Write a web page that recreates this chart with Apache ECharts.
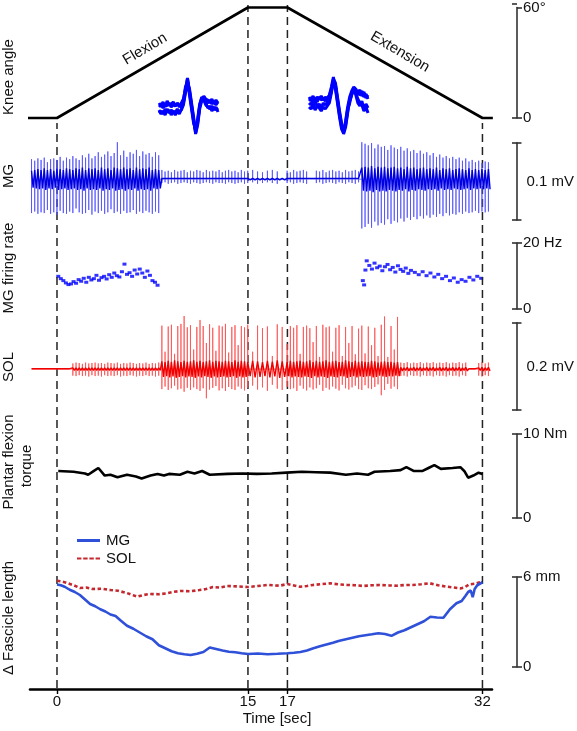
<!DOCTYPE html>
<html><head><meta charset="utf-8">
<script src="https://cdn.jsdelivr.net/npm/echarts@6/dist/echarts.min.js"></script>
<style>html,body{margin:0;padding:0;background:#fff}#c{width:577px;height:731px}</style>
</head><body><div id="c"></div>
<script>
// ---------------- DATA ----------------
// Time axis (seconds) : phase boundaries and tick labels
const TICK_TIMES = [0, 15, 17, 32];
const TICK_LABELS = ['0', '15', '17', '32'];
// the figure stretches the 15-17 s hold: display position of each boundary (in 0-15 s units)
const TIME_BREAKS = [0, 15, 17, 32];
const AXIS_BREAKS = [0, 15, 18.1, 33.42];

// Knee angle (deg)
const KNEE_T = [-2.28, 0, 15, 17, 32, 32.8];
const KNEE_DEG = [0, 0, 60, 60, 0, 0];

// EMG envelopes, one value per 0.25 s bin starting at -2.0 s (microvolts)
const EMG_T0 = -2.0, EMG_DT = 0.25;
const MG_UP = [
 26,24,27,25,28,22,26,27,25,29, 24,28,26,30,27,25,31,28,33,27,
 30,35,29,32,36,30,34,48,31,37, 29,35,33,38,30,36,32,34,29,35,
 31,12,10,11,9,12,10,11,12,9,   11,10,12,11,9,12,10,11,10,12,
 9,11,12,10,11,9,12,10,11,12,   10,9,11,12,10,2,11,9,12,10,
 11,12,10,2,1,11,10,12,9,11,    12,10,11,9,12,10,11,12,10,48,
 46,44,47,40,45,42,43,38,44,41, 39,42,37,40,36,38,34,37,33,35,
 31,34,29,32,28,30,27,29,26,28, 24,27,23,25,22,24,21,23,22];
const MG_DN = [
 44,42,45,43,44,40,45,43,46,41, 44,45,42,44,38,43,45,44,40,46,
 42,44,41,45,43,39,44,42,45,41, 44,43,40,45,42,44,41,43,45,42,
 44,5,4,6,5,4,6,5,4,5,          6,4,5,6,5,4,5,6,4,5,
 5,6,4,5,6,5,4,6,5,4,           6,5,4,5,6,1,5,4,6,5,
 4,5,6,1,1,5,4,6,5,4,           5,6,4,5,6,4,5,6,4,64,
 62,58,63,55,60,57,59,52,58,54, 56,51,55,50,53,49,52,48,51,47,
 50,46,49,45,48,44,47,45,46,43, 45,42,44,43,41,44,42,43,42];
const MG_CORE = [
 11,12,13,12,14,12,13,11,14,13, 12,14,13,12,14,13,15,12,14,13,
 14,12,15,13,14,12,15,14,13,15, 13,14,12,15,13,14,13,15,12,13,
 12,1,1,1,1,1,1,1,1,1,          1,1,1,1,1,1,1,1,1,1,
 1,1,1,1,1,1,1,1,1,1,           1,1,1,1,1,1,1,1,1,1,
 1,1,1,1,1,1,1,1,1,1,           1,1,1,1,1,1,1,1,1,15,
 16,15,17,14,16,15,16,14,15,16, 14,15,13,16,14,15,13,14,15,13,
 14,13,15,12,14,13,14,12,13,14, 13,12,14,12,13,12,13,12,13];
const SOL_UP = [
 0,0,0,0,0,0,0,0,3,0,           0,0,0,13,15,14,12,15,13,14,
 15,13,14,12,15,14,13,15,12,14, 13,15,14,12,14,13,15,12,14,13,
 15,100,40,98,102,35,99,104,122,96, 101,45,97,113,99,60,103,95,42,100,
 98,104,38,97,101,55,99,96,102,40, 100,94,98,30,103,97,58,99,95,101,
 35,97,100,94,62,99,28,102,96,98,  40,95,101,30,97,60,99,34,93,100,
 36,98,55,95,30,102,121,28,99,45,  120,15,14,16,13,15,14,16,13,15,
 14,16,13,15,14,16,13,15,14,16,    13,15,1,1,1,14,16,13,15];
const SOL_DN = [
 0,0,0,0,0,0,0,0,2,0,           0,0,0,15,16,14,16,15,17,14,
 16,15,17,14,16,15,16,14,17,15, 16,14,15,17,15,16,14,16,15,17,
 15,46,40,48,44,38,47,45,52,43, 48,42,46,50,44,67,47,43,39,49,
 44,50,41,46,48,40,45,49,43,38, 47,42,50,36,45,48,41,46,44,50,
 38,45,49,42,47,44,36,50,43,47, 40,45,49,36,44,47,42,38,46,48,
 37,44,46,41,35,60,48,34,45,40, 46,16,15,17,14,16,15,17,14,16,
 15,17,14,16,15,17,14,16,15,17, 14,16,1,1,1,15,17,14,16];
const SOL_CORE = [
 1,1,1,1,1,1,1,1,1,1,           1,1,1,3,3,3,3,3,3,3,
 3,3,3,3,3,3,3,3,3,3,           3,3,3,3,3,3,3,3,3,3,
 3,18,16,19,17,20,18,16,19,17,  18,20,17,19,16,18,20,17,19,18,
 17,19,18,16,20,17,19,18,16,19, 18,16,19,17,20,18,16,19,17,18,
 19,17,18,20,16,19,17,18,20,17, 18,19,16,17,20,18,16,19,17,18,
 17,16,19,18,15,17,18,16,17,15, 16,4,3,4,3,4,3,4,3,4,
 3,4,3,4,3,4,3,4,3,4,           3,4,1,1,1,3,4,3,4];

// MG firing rate (Hz)
const FR_L_T = [0.1,0.3,0.5,0.7,0.9,1.1,1.3,1.5,1.7,1.9,2.1,2.3,2.5,2.7,2.9,3.1,3.3,3.5,3.7,3.9,
 4.1,4.3,4.5,4.7,4.9,5.1,5.3,5.5,5.7,5.9,6.1,6.3,6.5,6.7,6.9,7.1,7.3,7.5,7.7,7.9];
const FR_L_HZ = [9.9,9.2,8.6,7.9,7.4,7.6,8.3,7.8,8.9,8.4,9.3,8.1,9.6,8.8,9.2,10.2,8.7,9.5,9.9,9.1,
 10.4,9.6,10.9,10.1,9.7,11.3,13.6,10.5,11.0,9.9,11.8,10.6,12.1,10.9,9.6,11.5,10.2,8.6,8.1,7.2];
const FR_R_T = [22.8,22.9,23.0,23.1,23.3,23.5,23.7,23.9,24.1,24.3,24.5,24.7,24.9,25.1,25.3,25.5,25.7,25.9,26.1,26.3,26.5,
 26.8,27.1,27.4,27.7,28.0,28.3,28.6,28.9,29.2,29.5,29.8,30.1,30.4,30.7,31.0,31.3,31.6,31.9];
const FR_R_HZ = [8.6,7.3,11.8,14.6,13.2,12.1,13.9,12.5,13.0,11.6,12.8,13.5,11.9,12.6,11.2,13.1,12.0,11.4,12.4,10.8,11.7,
 11.1,10.4,11.3,10.1,10.9,9.7,10.5,9.2,9.9,8.6,9.4,8.1,8.9,8.4,9.6,8.8,9.9,9.3];

// Plantar flexion torque (Nm)
const TORQUE_T = [0.1,1.3,2.2,2.45,2.9,3.25,3.75,4.2,4.75,5.5,6.2,6.65,7.35,7.9,8.4,8.8,9.65,10.25,10.8,11.4,
 12.0,13.4,14.6,15.45,16.2,16.95,18.1,19.2,20.3,21.5,22.35,23.2,23.7,24.9,25.7,26.15,26.7,27.4,27.85,28.3,
 28.8,29.7,30.3,30.6,30.9,31.3,31.7,32.0];
const TORQUE_NM = [5.6,5.5,5.3,5.15,5.6,5.95,5.05,5.15,4.85,5.15,4.95,4.7,5.05,5.25,5.05,5.25,5.15,5.5,5.3,5.6,
 5.15,5.25,5.3,5.25,5.3,5.4,5.5,5.45,5.4,5.15,5.3,5.15,5.5,5.6,5.7,6.05,5.6,5.6,5.95,6.3,
 5.85,5.95,6.05,5.6,4.8,5.05,5.4,5.25];

// Fascicle length change (mm)
const MG_FL_T = [0,0.3,0.6,1.0,1.4,1.8,2.2,2.6,3.0,3.4,3.8,4.2,4.6,5.0,5.5,6.0,6.5,7.0,7.5,8.0,
 8.5,9.0,9.5,10.0,10.5,11.0,11.5,12.0,12.5,13.0,13.5,14.0,14.5,15.0,15.5,16.0,16.5,17.0,17.5,18.0,
 18.5,19.0,19.5,20.0,20.5,21.0,21.5,22.0,22.5,23.0,23.5,24.0,24.5,25.0,25.5,26.0,26.5,27.0,27.5,28.0,
 28.5,29.0,29.5,30.0,30.4,30.7,30.9,31.1,31.25,31.4,31.6,31.8,32.0];
const MG_FL_MM = [5.5,5.45,5.35,5.15,5.0,4.8,4.5,4.2,4.05,3.85,3.7,3.5,3.4,3.1,2.75,2.55,2.3,2.05,1.85,1.45,
 1.25,1.05,0.92,0.85,0.8,0.88,1.0,1.3,1.2,1.1,1.02,0.98,0.92,0.87,0.9,0.85,0.88,0.92,0.95,1.0,
 1.1,1.25,1.38,1.5,1.62,1.75,1.85,1.95,2.05,2.12,2.18,2.25,2.2,2.08,2.3,2.45,2.65,2.85,3.05,3.35,
 3.3,3.28,3.85,4.25,4.4,4.75,5.0,5.1,4.65,5.2,5.45,5.55,5.65];
const SOL_FL_T = [0,0.4,0.8,1.3,1.8,2.3,2.8,3.5,4.2,4.8,5.5,6.3,6.8,7.3,8.0,8.6,9.1,9.7,10.5,11.2,
 11.7,12.25,12.8,13.35,14.2,15.0,15.5,16.0,16.6,17.0,17.96,18.5,18.96,19.6,20.27,21.0,21.58,22.2,22.8,23.5,
 24.1,24.8,25.4,26.0,26.65,27.3,27.96,28.6,29.3,29.8,30.3,30.6,31.0,31.4,31.8,32.0];
const SOL_FL_MM = [5.75,5.7,5.6,5.45,5.27,5.3,5.2,5.22,5.13,5.08,4.93,4.69,4.8,4.87,4.85,4.91,5.0,5.07,5.05,5.13,
 5.2,5.33,5.3,5.4,5.37,5.33,5.4,5.47,5.42,5.53,5.35,5.4,5.47,5.52,5.58,5.5,5.47,5.45,5.4,5.45,
 5.47,5.44,5.42,5.46,5.47,5.52,5.58,5.45,5.35,5.3,5.24,5.3,5.51,5.55,5.65,5.7];

// Motor-unit action potential overlays (sample index, arbitrary units)
const MUAP_L = [
 [2,4,1,5,3,6,2,4,3,5,2,6,10,20,31,18,4,-10,-24,-14,2,10,12,8,6,9,5,8,4,7],
 [-4,-2,-5,0,-3,-1,-6,-2,-4,0,-3,-1,4,16,28,14,0,-14,-21,-10,5,11,9,4,2,0,3,-1,2,-3],
 [6,3,7,2,8,4,5,7,3,6,4,2,8,22,26,20,6,-8,-25,-16,0,8,13,10,9,6,10,5,9,6],
 [-1,-5,-2,-6,0,-4,-1,-3,-6,-2,-5,0,6,18,30,16,2,-12,-22,-12,3,12,10,6,1,3,-2,2,-1,1]];
const MUAP_R = [
 [8,10,6,11,7,12,9,10,8,11,14,22,32,20,6,-8,-20,-24,-12,2,12,18,22,20,16,14,18,12,15,10],
 [2,0,4,-1,3,1,-2,2,0,3,6,16,28,24,10,-4,-16,-22,-16,-2,8,14,19,16,10,6,4,-2,2,-4],
 [12,9,13,8,12,10,13,9,12,10,13,20,30,26,12,-2,-14,-25,-18,-4,10,16,20,18,17,19,13,17,11,14],
 [4,6,2,7,3,5,1,6,4,7,9,18,26,22,8,-6,-18,-21,-14,0,6,15,21,14,6,3,8,0,5,1]];

// ---------------- HELPERS ----------------
const FONT = 'Liberation Sans, Arial, Helvetica, sans-serif';
function warp(t) {
  const n = TIME_BREAKS.length;
  let k;
  if (t <= TIME_BREAKS[1]) k = 0;
  else if (t >= TIME_BREAKS[n - 2]) k = n - 2;
  else { for (k = 1; k < n - 2; k++) if (t < TIME_BREAKS[k + 1]) break; }
  const t0 = TIME_BREAKS[k], t1 = TIME_BREAKS[k + 1], a0 = AXIS_BREAKS[k], a1 = AXIS_BREAKS[k + 1];
  return a0 + (t - t0) * (a1 - a0) / (t1 - t0);
}
const XMIN = -2.12, XMAX = 34.17;
const pairs = (ts, vs) => ts.map((t, i) => [warp(t), vs[i]]);
// vertical spikes on a baseline
function spikes(up, dn) {
  const pts = [];
  const n = Math.min(up.length, dn.length);
  for (let i = 0; i < n; i++) {
    const x = warp(EMG_T0 + i * EMG_DT);
    pts.push([x, 0], [x, up[i]], [x, -dn[i]], [x, 0]);
  }
  return pts;
}
// dense alternating core
function zig(amp) {
  const pts = [];
  for (let i = 0; i < amp.length; i++) {
    const t = EMG_T0 + i * EMG_DT;
    pts.push([warp(t), amp[i]]);
    pts.push([warp(t + EMG_DT / 2), -amp[i]]);
  }
  return pts;
}

const L = 30, R = 85;
const PANEL_BOX = [[4, 114], [143, 77], [243, 66], [323, 87], [434, 84], [577, 90]];
const grids = PANEL_BOX.map(([top, height]) => ({left: L, right: R, top, height}));   // 0-5 panels
grids.push({left: L, right: R, top: 5, height: 683});    // 6 dashed 15/17
grids.push({left: L, right: R, top: 123, height: 565});  // 7 dashed 0/32
grids.push({left: 159, top: 76, width: 59, height: 58}); // 8 inset L
grids.push({left: 309, top: 76, width: 59, height: 58}); // 9 inset R
PANEL_BOX.forEach(([top, height]) => grids.push({left: L, right: R, top, height})); // 10-15 scale-bar caps

const xAxes = [];
for (let g = 0; g < 8; g++) {
  const ax = {type: 'value', gridIndex: g, min: XMIN, max: XMAX, show: false};
  if (g === 5) {
    const vals = TICK_TIMES.map(warp);
    Object.assign(ax, {
      show: true, position: 'bottom', offset: 22,
      axisLine: {show: true, onZero: false, lineStyle: {color: '#000', width: 2.6}},
      axisTick: {show: true, customValues: vals, length: 5, lineStyle: {color: '#000', width: 1.4}},
      axisLabel: {show: true, customValues: vals, margin: 5, fontSize: 15, fontFamily: FONT, color: '#111',
        formatter: v => { let b = 0; vals.forEach((w, i) => { if (Math.abs(w - v) < Math.abs(vals[b] - v)) b = i; }); return TICK_LABELS[b]; }},
      splitLine: {show: false}
    });
  }
  xAxes.push(ax);
}
xAxes.push({type: 'value', gridIndex: 8, min: 0, max: 29, show: false});
xAxes.push({type: 'value', gridIndex: 9, min: 0, max: 29, show: false});
for (let g = 10; g < 16; g++) xAxes.push({type: 'value', gridIndex: g, min: XMIN, max: XMAX, show: false});

const yAxes = [];
const BAR_STYLE = {color: '#333', width: 1.6};
function scaleBar(g, min, max, labels, name) {
  const main = {
    type: 'value', gridIndex: g, position: 'right', offset: 25, min, max,
    axisLine: {show: true, onZero: false, lineStyle: BAR_STYLE},
    axisTick: {show: true, customValues: [min, max], length: 5, lineStyle: BAR_STYLE},
    axisLabel: labels ? {show: true, customValues: labels.map(l => l[0]), margin: 6, fontSize: 15, fontFamily: FONT, color: '#111',
      formatter: v => { const f = labels.find(l => l[0] === v); return f ? f[1] : ''; }} : {show: false},
    splitLine: {show: false}
  };
  if (name) Object.assign(main, {name, nameLocation: 'middle', nameRotate: 0, nameGap: 10,
    nameTextStyle: {align: 'left', verticalAlign: 'middle', fontSize: 15, fontFamily: FONT, color: '#111'}});
  yAxes.push(main);
  // inner half of the bar caps, on a twin grid
  yAxes.push({
    type: 'value', gridIndex: g + 10, position: 'right', offset: 25, min, max,
    axisLine: {show: false, onZero: false}, axisTick: {show: true, inside: true, customValues: [min, max], length: 5, lineStyle: BAR_STYLE},
    axisLabel: {show: false}, splitLine: {show: false}
  });
  return yAxes.length - 2;
}
const yKnee = scaleBar(0, 0, 60, [[0, '0'], [60, '60°']]);
const yMG = scaleBar(1, -53, 47, null, '0.1 mV');
const yFR = scaleBar(2, 0, 20, [[0, '0'], [20, '20 Hz']]);
const ySOL = scaleBar(3, -94, 106, null, '0.2 mV');
const yTq = scaleBar(4, 0, 10, [[0, '0'], [10, '10 Nm']]);
const yFL = scaleBar(5, 0, 6, [[0, '0'], [6, '6 mm']]);
const yDashA = yAxes.push({type: 'value', gridIndex: 6, min: 0, max: 1, show: false}) - 1;
const yDashB = yAxes.push({type: 'value', gridIndex: 7, min: 0, max: 1, show: false}) - 1;
const yInL = yAxes.push({type: 'value', gridIndex: 8, min: -25, max: 33, show: false}) - 1;
const yInR = yAxes.push({type: 'value', gridIndex: 9, min: -25, max: 33, show: false}) - 1;

const series = [];
const base = {type: 'line', symbol: 'none', silent: true, clip: false, animation: false};
// dashed phase boundaries
[[0, 7, yDashB], [15, 6, yDashA], [17, 6, yDashA], [32, 7, yDashB]].forEach(([t, g, y]) => {
  series.push(Object.assign({}, base, {name: 'phase', xAxisIndex: g, yAxisIndex: y,
    data: [[warp(t), 0], [warp(t), 1]], lineStyle: {color: '#222', width: 1.5, type: [8, 5]}}));
});
// knee angle
series.push(Object.assign({}, base, {name: 'Knee angle', xAxisIndex: 0, yAxisIndex: yKnee,
  data: pairs(KNEE_T, KNEE_DEG), lineStyle: {color: '#000', width: 2.6}}));
// MG EMG
series.push(Object.assign({}, base, {name: 'MG EMG', xAxisIndex: 1, yAxisIndex: yMG,
  data: spikes(MG_UP, MG_DN), lineStyle: {color: 'rgba(80,80,255,0.8)', width: 1}}));
series.push(Object.assign({}, base, {name: 'MG EMG core', xAxisIndex: 1, yAxisIndex: yMG,
  data: zig(MG_CORE), lineStyle: {color: '#0000e0', width: 1.4}}));
// firing rate
[[FR_L_T, FR_L_HZ], [FR_R_T, FR_R_HZ]].forEach(([ts, hz]) => series.push({type: 'scatter', name: 'MG rate',
  xAxisIndex: 2, yAxisIndex: yFR, silent: true, animation: false,
  symbol: 'rect', symbolSize: [4, 3], itemStyle: {color: '#0000ff'}, data: pairs(ts, hz)}));
// SOL EMG
series.push(Object.assign({}, base, {name: 'SOL EMG', xAxisIndex: 3, yAxisIndex: ySOL,
  data: spikes(SOL_UP, SOL_DN), lineStyle: {color: 'rgba(255,80,80,0.8)', width: 1}}));
series.push(Object.assign({}, base, {name: 'SOL EMG core', xAxisIndex: 3, yAxisIndex: ySOL,
  data: zig(SOL_CORE), lineStyle: {color: '#f00000', width: 1.4}}));
// torque
series.push(Object.assign({}, base, {name: 'Torque', xAxisIndex: 4, yAxisIndex: yTq,
  data: pairs(TORQUE_T, TORQUE_NM), lineStyle: {color: '#000', width: 2.6}}));
// fascicle length
series.push(Object.assign({}, base, {name: 'SOL', xAxisIndex: 5, yAxisIndex: yFL,
  data: pairs(SOL_FL_T, SOL_FL_MM), itemStyle: {color: '#c4282e'}, lineStyle: {color: '#c4282e', width: 2.6, type: [3.5, 2.5]}}));
series.push(Object.assign({}, base, {name: 'MG', xAxisIndex: 5, yAxisIndex: yFL,
  data: pairs(MG_FL_T, MG_FL_MM), itemStyle: {color: '#2f50d8'}, lineStyle: {color: '#2f50d8', width: 2.6}}));
// MUAP insets
MUAP_L.forEach(tr => series.push(Object.assign({}, base, {name: 'muapL', xAxisIndex: 8, yAxisIndex: yInL,
  data: tr.map((v, i) => [i, v]), lineStyle: {color: '#0000ff', width: 3}})));
MUAP_R.forEach(tr => series.push(Object.assign({}, base, {name: 'muapR', xAxisIndex: 9, yAxisIndex: yInR,
  data: tr.map((v, i) => [i, v]), lineStyle: {color: '#0000ff', width: 3}})));

const txt = (text, x, y, rot) => ({type: 'text', x, y, rotation: rot || 0, silent: true,
  style: {text, font: '15px ' + FONT, fill: '#111', align: 'center', verticalAlign: 'middle'}});
const V = Math.PI / 2;
const graphic = [
  txt('Knee angle', 9, 77, V),
  txt('MG', 9, 176, V),
  txt('MG firing rate', 9, 268, V),
  txt('SOL', 9, 367, V),
  txt('Plantar flexion', 9, 462, V),
  txt('torque', 27, 466, V),
  txt('Δ Fascicle length', 9, 618, V),
  txt('Flexion', 145, 49, 30.7 * Math.PI / 180),
  txt('Extension', 400, 52, -30.6 * Math.PI / 180),
  txt('Time [sec]', 277, 719, 0)
];

const chart = echarts.init(document.getElementById('c'), null, {renderer: 'canvas'});
chart.setOption({
  animation: false,
  backgroundColor: '#fff',
  textStyle: {fontFamily: FONT},
  grid: grids,
  xAxis: xAxes,
  yAxis: yAxes,
  legend: {
    data: [
      {name: 'MG', icon: 'rect'},
      {name: 'SOL', icon: 'path://M0,0h5v2h-5zM7,0h5v2h-5zM14,0h5v2h-5zM21,0h5v2h-5z'}
    ],
    orient: 'vertical', left: 72, top: 528, itemWidth: 23, itemHeight: 3, itemGap: 3,
    textStyle: {fontSize: 15, fontFamily: FONT, color: '#111', padding: [0, 0, 0, 1]}, selectedMode: false},
  graphic,
  series
});
</script></body></html>
